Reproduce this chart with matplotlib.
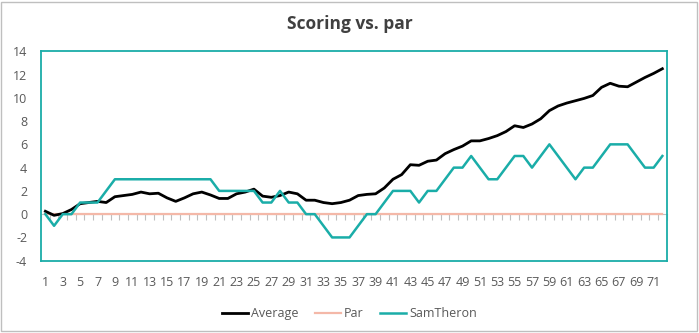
import matplotlib
matplotlib.use("Agg")
import matplotlib.pyplot as plt
from matplotlib.patches import Rectangle
import numpy as np

holes = list(range(1, 73))
average = [0.25, -0.1, 0.05, 0.4, 0.9, 1.0, 1.1, 1.0, 1.5, 1.6,
           1.7, 1.9, 1.75, 1.8, 1.4, 1.1, 1.4, 1.75, 1.9, 1.65,
           1.35, 1.35, 1.75, 1.9, 2.15, 1.55, 1.45, 1.6, 1.9, 1.75,
           1.2, 1.2, 1.0, 0.9, 1.0, 1.2, 1.6, 1.7, 1.75, 2.25,
           3.0, 3.4, 4.25, 4.2, 4.55, 4.65, 5.2, 5.55, 5.85, 6.3,
           6.3, 6.5, 6.75, 7.1, 7.6, 7.45, 7.75, 8.2, 8.9, 9.3,
           9.55, 9.75, 9.95, 10.2, 10.9, 11.25, 11.0, 10.95, 11.35, 11.75,
           12.1, 12.5]
par = [0] * 72
samtheron = [0, -1, 0, 0, 1, 1, 1, 2, 3, 3,
             3, 3, 3, 3, 3, 3, 3, 3, 3, 3,
             2, 2, 2, 2, 2, 1, 1, 2, 1, 1,
             0, 0, -1, -2, -2, -2, -1, 0, 0, 1,
             2, 2, 2, 1, 2, 2, 3, 4, 4, 5,
             4, 3, 3, 4, 5, 5, 4, 5, 6, 5,
             4, 3, 4, 4, 5, 6, 6, 6, 5, 4,
             4, 5]
yticks = list(range(-4, 15, 2))
xtick_labels = [str(h) for h in holes if h % 2 == 1]

plt.rcParams['font.family'] = ['Open Sans', 'DejaVu Sans']
teal = '#1AADA8'
salmon = '#F4B8A8'
txt = '#595959'

fig = plt.figure(figsize=(6.99, 3.33), dpi=100)
ax = fig.add_axes([0.0587, 0.2171, 0.8951, 0.6289])

ax.plot(holes, average, color='black', lw=2.0, label='Average', zorder=4)
ax.plot(holes, par, color=salmon, lw=1.6, label='Par', zorder=3)
ax.plot(holes, samtheron, color=teal, lw=1.8, label='SamTheron', zorder=5)

ax.set_xlim(0.5, 72.5)
ax.set_ylim(-4, 14)
ax.set_yticks(yticks)
ax.set_yticklabels([str(v) for v in yticks])
ax.set_xticks([h for h in holes if h % 2 == 1])
ax.set_xticklabels(xtick_labels)
ax.tick_params(axis='x', length=0, pad=11, labelsize=9, labelcolor=txt)
ax.tick_params(axis='y', length=0, pad=10, labelsize=9, labelcolor=txt)
for s in ax.spines.values():
    s.set_color(teal)
    s.set_linewidth(1.3)

sec = ax.secondary_xaxis(4 / 18)
sec.set_xticks(np.arange(0.5, 73, 1.0))
sec.set_xticklabels([])
sec.tick_params(axis='x', length=4, width=0.8, color='#BFBFBF')
sec.spines['bottom'].set_color('#BFBFBF')
sec.spines['bottom'].set_linewidth(0.8)

fig.text(0.5, 0.928, 'Scoring vs. par', ha='center', va='center',
         fontsize=12.5, fontweight='bold', color='#404040')

leg = fig.legend(loc='center', bbox_to_anchor=(0.5, 0.058), ncol=3,
                 frameon=False, fontsize=9, handlelength=2.1,
                 columnspacing=1.3, handletextpad=0.25)
for t in leg.get_texts():
    t.set_color(txt)

fig.patches.append(Rectangle((0.002, 0.005), 0.995, 0.99, transform=fig.transFigure,
                             fill=False, edgecolor='#BFBFBF', lw=1.0))

fig.savefig('out.png', dpi=100)
